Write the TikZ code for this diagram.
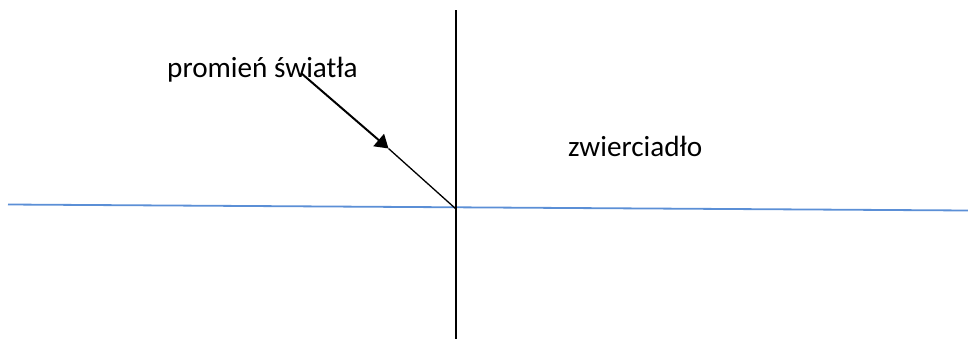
\documentclass[tikz,border=0pt]{standalone}
\usepackage{fontspec}
\setmainfont{Carlito}
\usetikzlibrary{arrows.meta}
\definecolor{mirrorblue}{HTML}{5B8FD6}
\begin{document}
\begin{tikzpicture}[x=1pt,y=-1pt,
  lbl/.style={anchor=base west,inner sep=0pt,font=\fontsize{29.2}{33}\selectfont}]
\useasboundingbox (0,0) rectangle (968,340);
\coordinate (bl) at (8,204.5);
\coordinate (br) at (968,210.5);
\coordinate (vt) at (456,10);
\coordinate (vb) at (456,339);
\coordinate (o) at (456,209);
\coordinate (s) at (301,73);
\coordinate (m) at (388.5,148.5);
\draw[mirrorblue,line width=1.8pt] (bl) -- (br);
\draw[black,line width=1.8pt] (vt) -- (vb);
\draw[black,line width=2pt,-{Triangle[length=13pt,width=16pt]}] (s) -- (m);
\draw[black,line width=1.3pt] (m) -- (o);
\node[lbl] (t1) at (167,77) {promień światła};
\node[lbl] (t2) at (568,156) {zwierciadło};
\end{tikzpicture}
\end{document}
